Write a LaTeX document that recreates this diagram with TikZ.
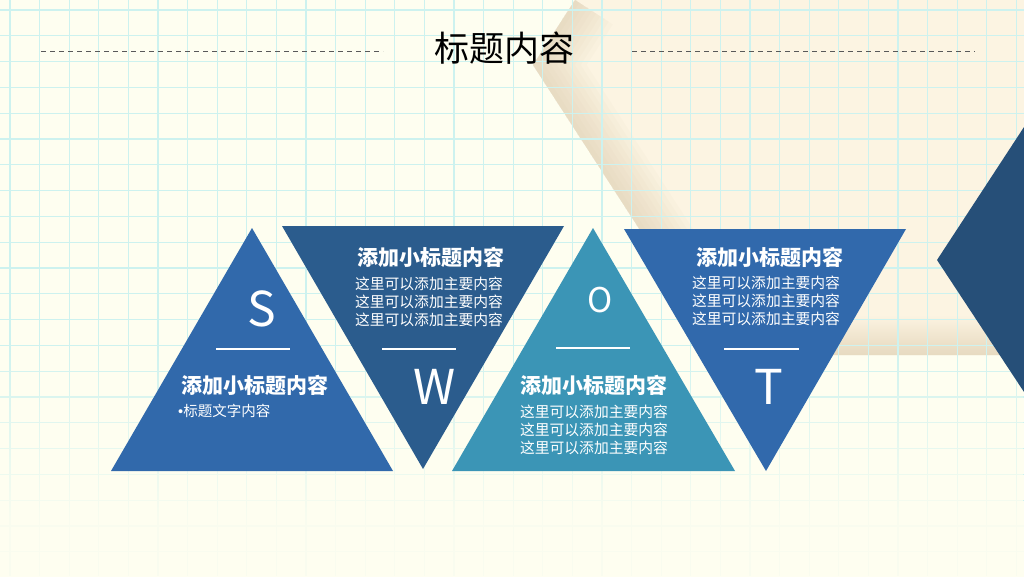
\documentclass[tikz,border=0pt]{standalone}
\usepackage{fontspec}
\setmainfont{Noto Sans CJK SC}
\newfontfamily\bulletfont{Liberation Sans}
\usetikzlibrary{fadings}

\definecolor{bgcream}{HTML}{FEFEF0}
\definecolor{gridcyan}{HTML}{CDF2EF}
\definecolor{paperbeige}{HTML}{FCF4E2}
\definecolor{papershadow}{HTML}{C9B48E}
\definecolor{sblue}{HTML}{3169AB}
\definecolor{wblue}{HTML}{2B5C8D}
\definecolor{oteal}{HTML}{3B95B6}
\definecolor{tblue}{HTML}{3169AC}
\definecolor{navyhex}{HTML}{264F78}

\tikzfading[name=fadebottom, top color=transparent!100, bottom color=transparent!10]

\tikzset{
  gridline/.style={draw=gridcyan, line width=1.3pt},
  dashline/.style={draw=black!65, line width=0.9pt, dash pattern=on 5pt off 4pt},
  whiteline/.style={draw=white, line width=2pt},
  letter/.style={text=white, inner sep=0pt, font=\fontsize{48}{48}\selectfont},
  subtitle/.style={text=white, inner sep=0pt, font=\bfseries\fontsize{21}{24}\selectfont},
  bodytext/.style={text=white, inner sep=0pt, align=center, font=\fontsize{14.8}{17.8}\selectfont},
}

\begin{document}
\begin{tikzpicture}[x=1pt, y=-1pt]
\useasboundingbox (0,0) rectangle (1024,576);
\fill[bgcream] (0,0) rectangle (1024,576);

% paper shape behind, top right
\fill[paperbeige] (575,0) -- (533,65) -- (721,355) -- (1024,355) -- (1024,0) -- cycle;
\begin{scope}
\clip (575,0) -- (533,65) -- (721,355) -- (1024,355) -- (1024,0) -- cycle;
\foreach \w in {10,20,...,90}
  \draw[papershadow, opacity=0.045, line width=\w pt, line join=round] (575,0) -- (533,65) -- (721,355);
\shade[top color=paperbeige, bottom color=papershadow!45!paperbeige] (530,315) rectangle (1024,356);
\end{scope}

% grid
\foreach \k in {0,...,34}
  \draw[gridline] ({10+29.6*\k},0) -- ({10+29.6*\k},576);
\foreach \k in {0,...,21}
  \draw[gridline] (0,{10+25.8*\k}) -- (1024,{10+25.8*\k});
\fill[bgcream, path fading=fadebottom] (0,340) rectangle (1024,520);
\fill[bgcream, opacity=0.9] (0,519.5) rectangle (1024,577);

% dark shape on the right edge
\fill[navyhex] (1024,127) -- (937,260) -- (1024,392) -- cycle;

% title
\node[inner sep=0pt, font=\fontsize{35}{40}\selectfont] (title) at (504,48) {标题内容};
\draw[dashline] (41,51) -- (383,51);
\draw[dashline] (632,51) -- (975,51);

% triangles
\fill[sblue] (111,471) -- (252,228) -- (393,471) -- cycle;
\fill[wblue] (282,226) -- (564,226) -- (423,469) -- cycle;
\fill[oteal] (452,471) -- (593,228) -- (735,471) -- cycle;
\fill[tblue] (624,229) -- (906,229) -- (766,471) -- cycle;

% S
\node[letter] (sLetter) at (262,309) {S};
\draw[whiteline] (216,349) -- (290,349);
\node[subtitle] (sTitle) at (255,385) {添加小标题内容};
\node[bodytext, anchor=west, font=\fontsize{14.5}{17}\selectfont] (sBody) at (178,411) {{\bulletfont •}标题文字内容};

% W
\node[subtitle] (wTitle) at (431,257) {添加小标题内容};
\node[bodytext] (wBody) at (429,302) {这里可以添加主要内容\\这里可以添加主要内容\\这里可以添加主要内容};
\draw[whiteline] (382,349) -- (456,349);
\node[letter] (wLetter) at (435,387) {W};

% O
\node[letter, font=\fontsize{34}{34}\selectfont] (oLetter) at (600.5,300.5) {O};
\draw[whiteline] (556,348) -- (630,348);
\node[subtitle] (oTitle) at (594,385) {添加小标题内容};
\node[bodytext] (oBody) at (594,430) {这里可以添加主要内容\\这里可以添加主要内容\\这里可以添加主要内容};

% T
\node[subtitle] (tTitle) at (770,257) {添加小标题内容};
\node[bodytext] (tBody) at (766,301) {这里可以添加主要内容\\这里可以添加主要内容\\这里可以添加主要内容};
\draw[whiteline] (724,349) -- (799,349);
\node[letter] (tLetter) at (769,387) {T};
\end{tikzpicture}
\end{document}
